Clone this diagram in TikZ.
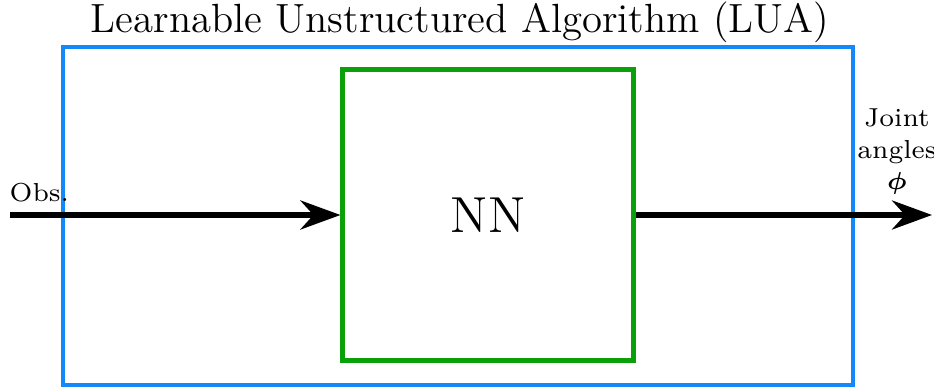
\documentclass[tikz,border=0pt]{standalone}
\usepackage{amsmath,bm}
\usetikzlibrary{arrows.meta}
\definecolor{luablue}{RGB}{20,135,250}
\definecolor{nngreen}{RGB}{10,160,10}
\begin{document}
\begin{tikzpicture}[x=0.01cm,y=-0.01cm,
	flow/.style={line width=1.5pt,-{Stealth[length=0.4cm,width=0.29cm]}},
	lab/.style={inner sep=0pt,font=\fontsize{7.4}{9}\selectfont}]
			\useasboundingbox (0,0) rectangle (934,388);
			\draw[luablue,line width=1.1pt] (63,47) rectangle (853,385);
			\node[draw=nngreen,line width=1.4pt,minimum width=2.9cm,minimum height=2.9cm,font=\Large] (nn) at (488,215) {NN};
			\node[font=\fontsize{11.6}{14}\selectfont,inner sep=0pt] (title) at (460,22) {Learnable Unstructured Algorithm (LUA)};
			\coordinate (in) at (10,215);
			\coordinate (out) at (932,215);
			\node[lab,anchor=base west] (obs) at (9,201) {Obs.};
			\node[lab,align=center,anchor=north] (phi) at (897,108) {Joint\\angles\\$\bm{\phi}$};
			\draw[flow] (in)--(nn.west);
			\draw[flow] (nn.east)--(out);
	\end{tikzpicture}
\end{document}
